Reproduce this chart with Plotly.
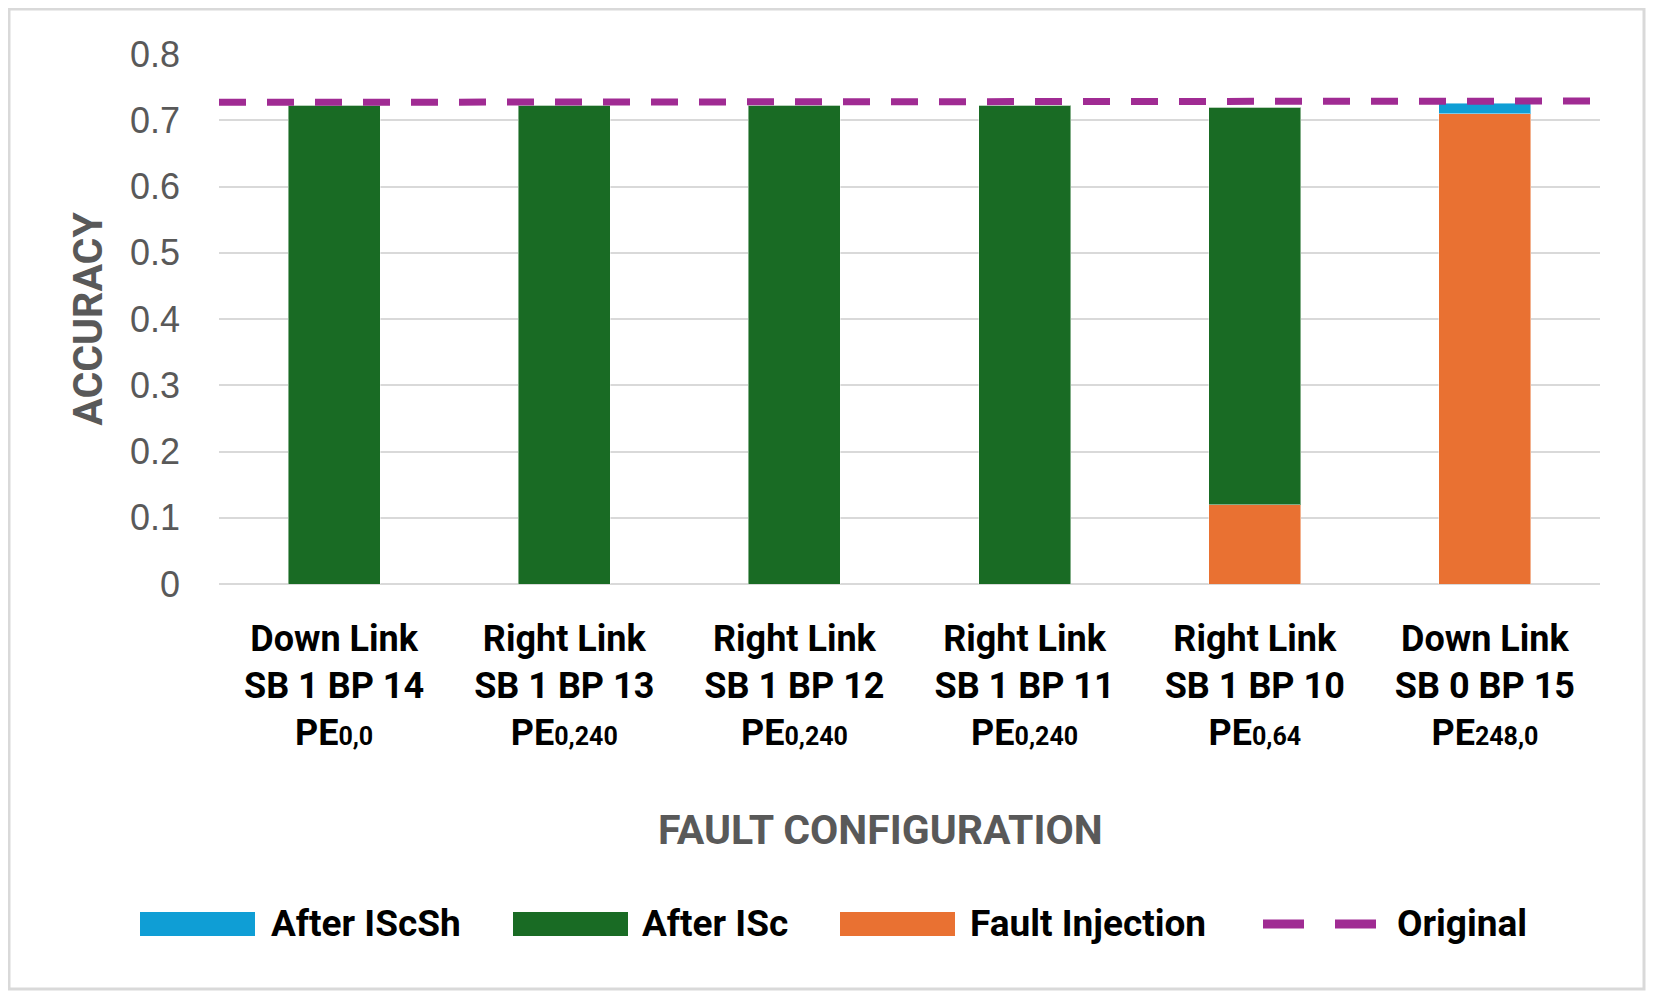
import plotly.graph_objects as go

# data
SUB = '<span style="font-size:25px">{}</span>'
categories = [
    "Down Link<br>SB 1 BP 14<br>PE" + SUB.format("0,0"),
    "Right Link<br>SB 1 BP 13<br>PE" + SUB.format("0,240"),
    "Right Link<br>SB 1 BP 12<br>PE" + SUB.format("0,240"),
    "Right Link<br>SB 1 BP 11<br>PE" + SUB.format("0,240"),
    "Right Link<br>SB 1 BP 10<br>PE" + SUB.format("0,64"),
    "Down Link<br>SB 0 BP 15<br>PE" + SUB.format("248,0"),
]
fault_injection = [0, 0, 0, 0, 0.120, 0.710]
after_isc = [0.723, 0.723, 0.723, 0.723, 0.600, 0]
after_iscsh = [0, 0, 0, 0, 0, 0.016]
original = [0.727, 0.7275, 0.728, 0.728, 0.7285, 0.729]
y_ticks = [0, 0.1, 0.2, 0.3, 0.4, 0.5, 0.6, 0.7, 0.8]

BLUE, GREEN, ORANGE, PURPLE = "#0F9ED5", "#196B24", "#E97132", "#A02B93"
GRID = "#D9D9D9"
GREY = "#595959"

# the page body adds an 8px margin, so the figure is a bit smaller and shifted
OFF = 8
W, H = 1654 - 2 * OFF, 999 - 2 * OFF
L, R, T, B = 219 - OFF, 1600 - OFF, 54 - OFF, 584 - OFF  # plot area in figure pixels


def px_x(px):
    return (px - OFF - L) / (R - L)


def px_y(py):
    return (B - (py - OFF)) / (B - T)


fig = go.Figure()
for name, vals, col in [("Fault Injection", fault_injection, ORANGE),
                        ("After ISc", after_isc, GREEN),
                        ("After IScSh", after_iscsh, BLUE)]:
    fig.add_trace(go.Bar(x=categories, y=vals, name=name, marker_color=col,
                         marker_line=dict(width=1, color="rgba(255,255,255,0.45)"),
                         showlegend=False))

fig.add_trace(go.Scatter(x=list(range(len(original))), y=original, xaxis="x2", mode="lines",
                         name="Original", line=dict(color=PURPLE, width=7, dash="27px,21px"),
                         showlegend=False))

# legend drawn by hand so the swatches can be wide like the original
legend = [("After IScSh", BLUE, 140, 269), ("After ISc", GREEN, 513, 640),
          ("Fault Injection", ORANGE, 840, 968), ("Original", PURPLE, 1263, 1395)]
shapes = []
annotations = []
ly = 924
for name, col, sx, tx in legend:
    if name == "Original":
        shapes.append(dict(type="line", xref="paper", yref="paper",
                           x0=px_x(sx), x1=px_x(sx + 114), y0=px_y(ly), y1=px_y(ly),
                           line=dict(color=col, width=9, dash="41px,31px")))
    else:
        shapes.append(dict(type="rect", xref="paper", yref="paper",
                           x0=px_x(sx), x1=px_x(sx + 115), y0=px_y(ly - 12), y1=px_y(ly + 12),
                           fillcolor=col, line=dict(width=0)))
    annotations.append(dict(text=f"<b>{name}</b>", xref="paper", yref="paper",
                            x=px_x(tx), y=px_y(ly), xanchor="left", yanchor="middle",
                            showarrow=False, font=dict(family="Roboto", size=37, color="black")))

# x-axis title sits a little left of the plot centre in the original
annotations.append(dict(text="<b>FAULT CONFIGURATION</b>", xref="paper", yref="paper",
                        x=px_x(880), y=px_y(830), xanchor="center", yanchor="middle",
                        showarrow=False, font=dict(family="Roboto", size=41, color=GREY)))

shapes.append(dict(type="rect", xref="paper", yref="paper",
                   x0=px_x(OFF + 1), x1=px_x(OFF + W - 2), y0=px_y(OFF + 1), y1=px_y(OFF + H - 2),
                   line=dict(color=GRID, width=3), layer="below"))

fig.update_layout(
    width=W, height=H,
    margin=dict(l=L, r=W - R, t=T, b=H - B),
    paper_bgcolor="white", plot_bgcolor="white",
    barmode="stack", bargap=0.6,
    xaxis=dict(showgrid=False, showline=False, ticks="", ticklabelstandoff=30,
               tickvals=categories, ticktext=[f"<b>{c}</b>" for c in categories],
               tickfont=dict(family="Roboto", size=36, color="black")),
    xaxis2=dict(overlaying="x", range=[0, len(original) - 1], visible=False),
    yaxis=dict(range=[0, 0.8], tickvals=y_ticks, ticktext=[f"{v:g}" for v in y_ticks],
               showgrid=True, gridcolor=GRID, gridwidth=2, zeroline=True,
               zerolinecolor=GRID, zerolinewidth=2, showline=False, ticks="",
               ticklabelstandoff=38,
               tickfont=dict(family="Liberation Sans", size=36, color=GREY),
               title=dict(text="<b>ACCURACY</b>", standoff=14,
                          font=dict(family="Roboto", size=41, color=GREY))),
    shapes=shapes, annotations=annotations,
)

fig.write_html("out.html")
